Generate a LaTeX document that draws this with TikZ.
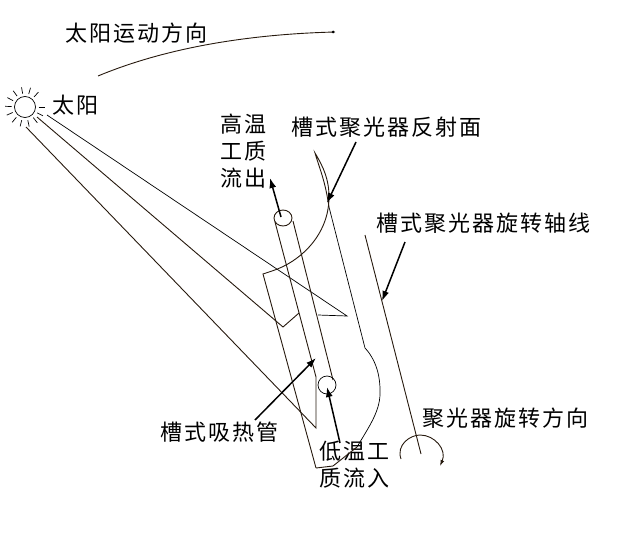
\documentclass[tikz,border=0pt]{standalone}
\usepackage{fontspec}
\usetikzlibrary{arrows.meta}
\newfontfamily\cjk[LetterSpace=9]{Noto Sans CJK SC}
\tikzset{
  lbl/.style={font=\cjk\fontsize{22}{27}\selectfont,inner sep=0pt,align=left,text=black},
  edge/.style={draw=black!80!brown,line width=.9pt},
  thinline/.style={draw=black,line width=.7pt},
  leader/.style={-{Latex[length=10pt,width=7pt]},black,line width=1.5pt}}
\begin{document}
\begin{tikzpicture}[x=1pt,y=-1pt]
\useasboundingbox (0,0) rectangle (642,551);
% labels
\node[lbl,anchor=west] (motion) at (65,33) {太阳运动方向};
\node[lbl,anchor=west] (sunlbl) at (52,105) {太阳};
\node[lbl,anchor=north west] (outlet) at (220,114) {高温\\工质\\流出};
\node[lbl,anchor=west] (mirror) at (291,127) {槽式聚光器反射面};
\node[lbl,anchor=west] (axis) at (376,223) {槽式聚光器旋转轴线};
\node[lbl,anchor=west] (turn) at (422,418) {聚光器旋转方向};
\node[lbl,anchor=west] (tube) at (160,432) {槽式吸热管};
\node[lbl,anchor=north west] (inlet) at (319,441) {低温工\\质流入};
% sun
\node[circle,draw,line width=.7pt,minimum size=21pt,inner sep=0pt] (sun) at (25,107) {};
\foreach \a in {0,26,...,334}
  \draw[thinline] (25,107) ++(\a:13.5) -- ++(\a:6.5);
% sun path
\draw[edge] (98,76) .. controls (170,46) and (255,34) .. (335,32);
\fill (333,32) circle (1.5);
% rays
\draw[thinline] (47,115) -- (347,316) -- (318,315);
\draw[edge] (37,117) -- (283,327) -- (299,313);
\draw[edge] (26,127) -- (316,428) -- (316,377);
% tube
\draw[edge] (283,218) ellipse (9 and 8);
\draw[edge] (275,222) -- (316,377);
\draw[edge] (293,221) -- (333,380);
\draw[thinline] (327,385) circle (9);
% reflector
\draw[edge] (316,468) -- (263,274) -- (272,271)
  .. controls (300,262) and (329,235) .. (329,197)
  .. controls (329,180) and (324,168) .. (315,153)
  .. controls (320,170) and (325,180) .. (329,207);
\draw[thinline] (329,207) -- (365,348)
  .. controls (378,362) and (380,380) .. (380,390)
  .. controls (381,410) and (370,425) .. (357,447);
\draw[edge] (316,468) -- (333,466) -- (357,447);
% axis
\draw[edge] (365,235) -- (421,454);
\draw[edge,-{Latex[length=6pt,width=4pt]}] (401,459) .. controls (396,445) and (410,435) .. (420,435)
  .. controls (435,435) and (447,450) .. (440,466);
% leaders
\coordinate (outtip) at (270,178);
\coordinate (outfoot) at (281,217);
\coordinate (mirtip) at (327,203);
\coordinate (mirfoot) at (356,142);
\coordinate (axistip) at (382,301);
\coordinate (axisfoot) at (405,242);
\coordinate (tubetip) at (316,358);
\coordinate (tubefoot) at (255,420);
\coordinate (intip) at (327,387);
\coordinate (infoot) at (340,443);
\draw[leader] (outfoot) -- (outtip);
\draw[leader] (mirfoot) -- (mirtip);
\draw[leader] (axisfoot) -- (axistip);
\draw[leader] (tubefoot) -- (tubetip);
\draw[leader] (infoot) -- (intip);
\end{tikzpicture}
\end{document}
